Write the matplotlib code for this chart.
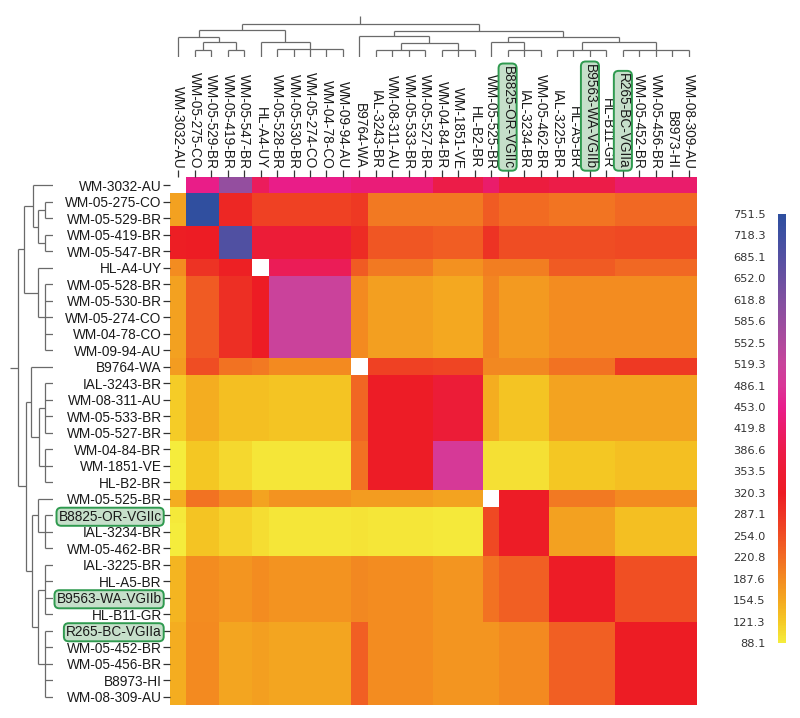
import numpy as np
import matplotlib
matplotlib.use("Agg")
import matplotlib.pyplot as plt
from matplotlib.colors import LinearSegmentedColormap, Normalize
from matplotlib.cm import ScalarMappable

labels = ["WM-3032-AU", "WM-05-275-CO", "WM-05-529-BR", "WM-05-419-BR", "WM-05-547-BR",
          "HL-A4-UY", "WM-05-528-BR", "WM-05-530-BR", "WM-05-274-CO", "WM-04-78-CO",
          "WM-09-94-AU", "B9764-WA", "IAL-3243-BR", "WM-08-311-AU", "WM-05-533-BR",
          "WM-05-527-BR", "WM-04-84-BR", "WM-1851-VE", "HL-B2-BR", "WM-05-525-BR",
          "B8825-OR-VGIIc", "IAL-3234-BR", "WM-05-462-BR", "IAL-3225-BR", "HL-A5-BR",
          "B9563-WA-VGIIb", "HL-B11-GR", "R265-BC-VGIIa", "WM-05-452-BR", "WM-05-456-BR",
          "B8973-HI", "WM-08-309-AU"]
highlighted = ["B8825-OR-VGIIc", "B9563-WA-VGIIb", "R265-BC-VGIIa"]

nan = np.nan
values = [
    [nan, 450, 450, 590, 590, 405, 450, 450, 450, 450, 450, 435, 435, 435, 435, 435, 386, 386, 386, 420, 370, 370, 370, 385, 385, 385, 385, 420, 420, 420, 420, 420],
    [163, 745, 745, 305, 305, 270, 270, 270, 270, 270, 270, 280, 205, 205, 205, 205, 205, 205, 205, 240, 222, 222, 222, 212, 212, 212, 212, 225, 225, 225, 225, 225],
    [163, 745, 745, 305, 305, 270, 270, 270, 270, 270, 270, 280, 205, 205, 205, 205, 205, 205, 205, 240, 222, 222, 222, 212, 212, 212, 212, 225, 225, 225, 225, 225],
    [318, 322, 322, 690, 690, 360, 360, 360, 360, 360, 360, 300, 245, 245, 245, 245, 237, 237, 237, 290, 255, 255, 255, 255, 255, 255, 255, 260, 260, 260, 260, 260],
    [318, 322, 322, 690, 690, 360, 360, 360, 360, 360, 360, 300, 245, 245, 245, 245, 237, 237, 237, 290, 255, 255, 255, 255, 255, 255, 255, 260, 260, 260, 260, 260],
    [185, 290, 290, 315, 315, nan, 400, 400, 400, 400, 400, 240, 205, 205, 205, 205, 180, 180, 180, 200, 200, 200, 200, 240, 240, 240, 240, 225, 225, 225, 225, 225],
    [162, 240, 240, 295, 295, 320, 515, 515, 515, 515, 515, 188, 165, 165, 165, 165, 155, 155, 155, 192, 170, 170, 170, 185, 185, 185, 185, 185, 185, 185, 185, 185],
    [162, 240, 240, 295, 295, 320, 515, 515, 515, 515, 515, 188, 165, 165, 165, 165, 155, 155, 155, 192, 170, 170, 170, 185, 185, 185, 185, 185, 185, 185, 185, 185],
    [162, 240, 240, 295, 295, 320, 515, 515, 515, 515, 515, 188, 165, 165, 165, 165, 155, 155, 155, 192, 170, 170, 170, 185, 185, 185, 185, 185, 185, 185, 185, 185],
    [162, 240, 240, 295, 295, 320, 515, 515, 515, 515, 515, 188, 165, 165, 165, 165, 155, 155, 155, 192, 170, 170, 170, 185, 185, 185, 185, 185, 185, 185, 185, 185],
    [162, 240, 240, 295, 295, 320, 515, 515, 515, 515, 515, 188, 165, 165, 165, 165, 155, 155, 155, 192, 170, 170, 170, 185, 185, 185, 185, 185, 185, 185, 185, 185],
    [168, 255, 255, 215, 215, 205, 188, 188, 188, 188, 188, nan, 270, 270, 270, 270, 265, 265, 265, 190, 190, 190, 190, 215, 215, 215, 215, 280, 280, 280, 280, 280],
    [118, 150, 150, 130, 130, 130, 125, 125, 125, 125, 125, 228, 325, 325, 325, 325, 360, 360, 360, 148, 125, 125, 125, 160, 160, 160, 160, 160, 160, 160, 160, 160],
    [118, 150, 150, 130, 130, 130, 125, 125, 125, 125, 125, 228, 325, 325, 325, 325, 360, 360, 360, 148, 125, 125, 125, 160, 160, 160, 160, 160, 160, 160, 160, 160],
    [118, 150, 150, 130, 130, 130, 125, 125, 125, 125, 125, 228, 325, 325, 325, 325, 360, 360, 360, 148, 125, 125, 125, 160, 160, 160, 160, 160, 160, 160, 160, 160],
    [118, 150, 150, 130, 130, 130, 125, 125, 125, 125, 125, 228, 325, 325, 325, 325, 360, 360, 360, 148, 125, 125, 125, 160, 160, 160, 160, 160, 160, 160, 160, 160],
    [90, 122, 122, 108, 108, 95, 95, 95, 95, 95, 95, 215, 325, 325, 325, 325, 490, 490, 490, 100, 100, 100, 100, 122, 122, 122, 122, 130, 130, 130, 130, 130],
    [90, 122, 122, 108, 108, 95, 95, 95, 95, 95, 95, 215, 325, 325, 325, 325, 490, 490, 490, 100, 100, 100, 100, 122, 122, 122, 122, 130, 130, 130, 130, 130],
    [90, 122, 122, 108, 108, 95, 95, 95, 95, 95, 95, 215, 325, 325, 325, 325, 490, 490, 490, 100, 100, 100, 100, 122, 122, 122, 122, 130, 130, 130, 130, 130],
    [150, 215, 215, 188, 188, 160, 178, 178, 178, 178, 178, 168, 168, 168, 168, 168, 160, 160, 160, nan, 325, 325, 325, 205, 205, 205, 205, 188, 188, 188, 188, 188],
    [92, 125, 125, 112, 112, 102, 95, 95, 95, 95, 95, 97, 95, 95, 95, 95, 92, 92, 92, 260, 325, 325, 325, 163, 163, 163, 163, 130, 130, 130, 130, 130],
    [89, 125, 125, 112, 112, 102, 95, 95, 95, 95, 95, 97, 95, 95, 95, 95, 92, 92, 92, 260, 325, 325, 325, 163, 163, 163, 163, 130, 130, 130, 130, 130],
    [89, 125, 125, 112, 112, 102, 95, 95, 95, 95, 95, 97, 95, 95, 95, 95, 92, 92, 92, 260, 325, 325, 325, 163, 163, 163, 163, 130, 130, 130, 130, 130],
    [140, 185, 185, 175, 175, 185, 177, 177, 177, 177, 177, 190, 186, 186, 186, 186, 175, 175, 175, 215, 235, 235, 235, 325, 325, 325, 325, 252, 252, 252, 252, 252],
    [140, 185, 185, 175, 175, 185, 177, 177, 177, 177, 177, 190, 186, 186, 186, 186, 175, 175, 175, 215, 235, 235, 235, 325, 325, 325, 325, 252, 252, 252, 252, 252],
    [140, 185, 185, 175, 175, 185, 177, 177, 177, 177, 177, 190, 186, 186, 186, 186, 175, 175, 175, 215, 235, 235, 235, 325, 325, 325, 325, 252, 252, 252, 252, 252],
    [140, 185, 185, 175, 175, 185, 177, 177, 177, 177, 177, 190, 186, 186, 186, 186, 175, 175, 175, 215, 235, 235, 235, 325, 325, 325, 325, 252, 252, 252, 252, 252],
    [148, 187, 187, 157, 157, 165, 156, 156, 156, 156, 156, 235, 185, 185, 185, 185, 175, 175, 175, 175, 187, 187, 187, 235, 235, 235, 235, 320, 320, 320, 320, 320],
    [148, 187, 187, 157, 157, 165, 156, 156, 156, 156, 156, 235, 185, 185, 185, 185, 175, 175, 175, 175, 187, 187, 187, 235, 235, 235, 235, 320, 320, 320, 320, 320],
    [148, 187, 187, 157, 157, 165, 156, 156, 156, 156, 156, 235, 185, 185, 185, 185, 175, 175, 175, 175, 187, 187, 187, 235, 235, 235, 235, 320, 320, 320, 320, 320],
    [148, 187, 187, 157, 157, 165, 156, 156, 156, 156, 156, 235, 185, 185, 185, 185, 175, 175, 175, 175, 187, 187, 187, 235, 235, 235, 235, 320, 320, 320, 320, 320],
    [148, 187, 187, 157, 157, 165, 156, 156, 156, 156, 156, 235, 185, 185, 185, 185, 175, 175, 175, 175, 187, 187, 187, 235, 235, 235, 235, 320, 320, 320, 320, 320],
]

cbar_ticks = [88.1, 121.3, 154.5, 187.6, 220.8, 254.0, 287.1, 320.3, 353.5, 386.6, 419.8,
              453.0, 486.1, 519.3, 552.5, 585.6, 618.8, 652.0, 685.1, 718.3, 751.5]
cbar_labels = ["88.1", "121.3", "154.5", "187.6", "220.8", "254.0", "287.1", "320.3", "353.5",
               "386.6", "419.8", "453.0", "486.1", "519.3", "552.5", "585.6", "618.8", "652.0",
               "685.1", "718.3", "751.5"]
cmap_colors = ["#f5ec3c", "#f5c824", "#f4a720", "#f38a21", "#f26b23", "#f04e23", "#ee3424",
               "#ed1c24", "#ed1c34", "#ec1c4a", "#eb1c6a", "#e91e8c", "#d93797", "#c8449c",
               "#b04a9d", "#984e9f", "#8150a0", "#6a50a1", "#5550a2", "#4050a2", "#2e4f9f"]

# dendrogram merges: (children, height); new node ids start at 32
merges = [
    ([1, 2], 0.22), ([3, 4], 0.22), ([32, 33], 0.44), ([0, 34], 0.59),
    ([6, 7, 8, 9, 10], 0.24), ([5, 36], 0.44), ([35, 37], 0.83),
    ([12, 13, 14, 15], 0.22), ([16, 17, 18], 0.22), ([39, 40], 0.41), ([11, 41], 0.63),
    ([20, 21, 22], 0.22), ([19, 43], 0.44), ([23, 24, 25, 26], 0.22),
    ([27, 28, 29, 30, 31], 0.22), ([45, 46], 0.44), ([44, 47], 0.61),
    ([42, 48], 0.78), ([38, 49], 1.0),
]

W, H = 800, 718
fig = plt.figure(figsize=(W / 100, H / 100), dpi=100)


def ax_px(l, t, r, b):
    return fig.add_axes([l / W, 1 - b / H, (r - l) / W, (b - t) / H])


vmin, vmax = cbar_ticks[0], cbar_ticks[-1]
cmap = LinearSegmentedColormap.from_list(
    "c", [((v - vmin) / (vmax - vmin), c) for v, c in zip(cbar_ticks, cmap_colors)])
cmap.set_bad("white")
norm = Normalize(vmin, vmax)

n = len(labels)
ax = ax_px(170, 177, 697, 705)
data = np.ma.masked_invalid(np.array(values, dtype=float))
ax.imshow(data, cmap=cmap, norm=norm, aspect="auto", interpolation="nearest")
for s in ax.spines.values():
    s.set_visible(False)
ax.set_yticks(range(n))
ax.set_yticklabels(labels)
ax.xaxis.tick_top()
ax.set_xticks(range(n))
ax.set_xticklabels(labels, rotation=270)
ax.tick_params(axis="both", length=5, width=0.9, color="#333333", pad=1,
               labelsize=9.8, labelcolor="#1a1a1a")
for t in ax.get_xticklabels() + ax.get_yticklabels():
    t.set_family("Liberation Sans")
    if t.get_text() in highlighted:
        t.set_bbox(dict(boxstyle="round,pad=0.15,rounding_size=0.35", fc="#c6dfca",
                        ec="#2f9a4f", lw=1.4))


def dendro_segments():
    pos = {i: float(i) for i in range(n)}
    hgt = {i: 0.0 for i in range(n)}
    segs = []
    for k, (children, h) in enumerate(merges):
        nid = n + k
        xs = [pos[c] for c in children]
        for c in children:
            segs.append(([pos[c], pos[c]], [hgt[c], h]))
        segs.append(([min(xs), max(xs)], [h, h]))
        pos[nid] = (min(xs) + max(xs)) / 2
        hgt[nid] = h
    root = n + len(merges) - 1
    segs.append(([pos[root], pos[root]], [hgt[root], hgt[root] + 0.25]))
    return segs


segs = dendro_segments()
lc = "#6a6a6a"

axt = ax_px(170, 14, 697, 57)
for xs, hs in segs:
    axt.plot(xs, hs, color=lc, lw=0.9, solid_capstyle="butt")
axt.set_xlim(-0.5, n - 0.5)
axt.set_ylim(0, 1.3)
axt.axis("off")

axl = ax_px(8, 177, 53, 705)
for xs, hs in segs:
    axl.plot(hs, xs, color=lc, lw=0.9, solid_capstyle="butt")
axl.set_ylim(n - 0.5, -0.5)
axl.set_xlim(1.3, 0)
axl.axis("off")

cax = ax_px(778, 214, 786, 643)
cb = fig.colorbar(ScalarMappable(norm=norm, cmap=cmap), cax=cax)
cb.outline.set_visible(False)
cb.set_ticks(cbar_ticks)
cb.set_ticklabels(cbar_labels)
cax.yaxis.set_ticks_position("left")
cax.tick_params(length=0, pad=9, labelsize=8.2, labelcolor="#333333")

fig.savefig("out.png", dpi=100, facecolor="white")
